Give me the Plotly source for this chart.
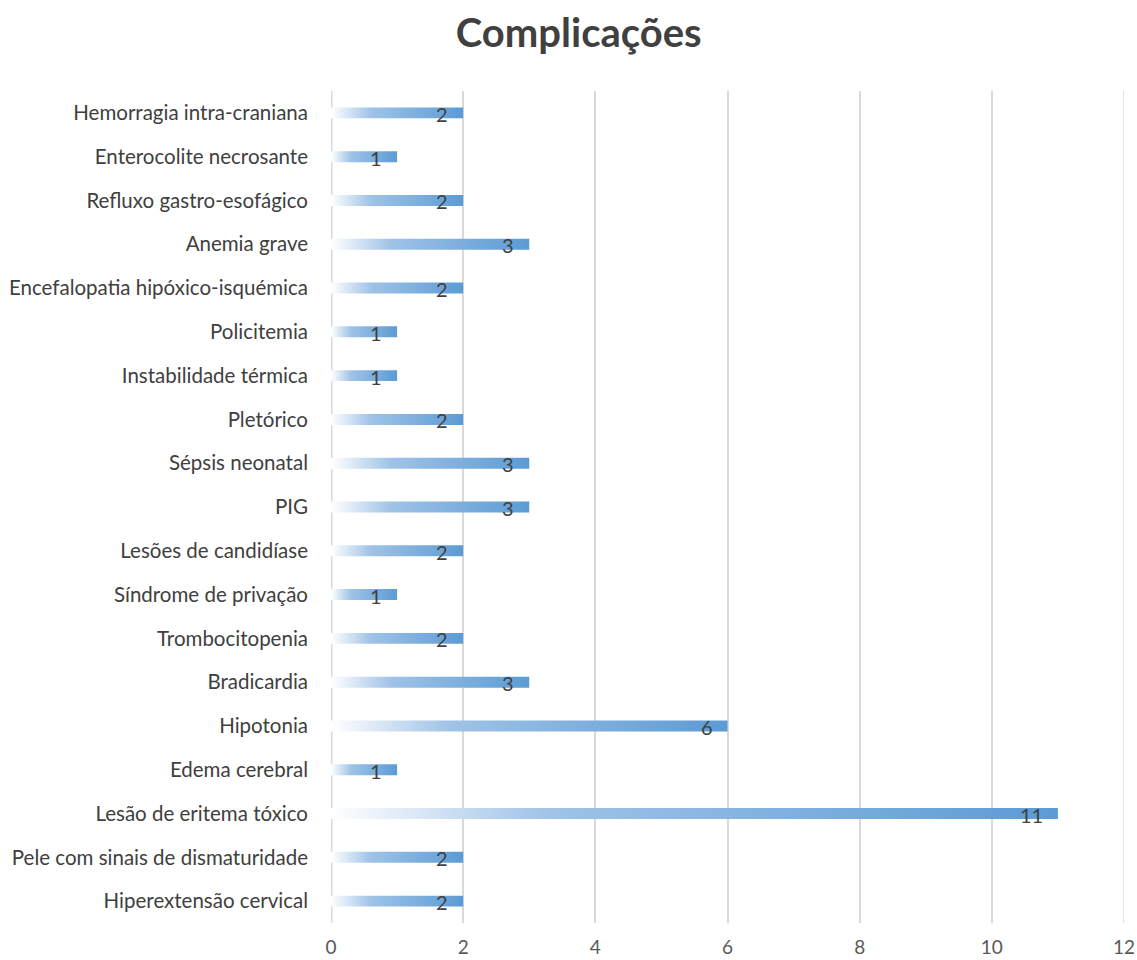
import plotly.graph_objects as go

categories = [
    "Hiperextensão cervical",
    "Pele com sinais de dismaturidade",
    "Lesão de eritema tóxico",
    "Edema cerebral",
    "Hipotonia",
    "Bradicardia",
    "Trombocitopenia",
    "Síndrome de privação",
    "Lesões de candidíase",
    "PIG",
    "Sépsis neonatal",
    "Pletórico",
    "Instabilidade térmica",
    "Policitemia",
    "Encefalopatia hipóxico-isquémica",
    "Anemia grave",
    "Refluxo gastro-esofágico",
    "Enterocolite necrosante",
    "Hemorragia intra-craniana",
]
values = [2, 2, 11, 1, 6, 3, 2, 1, 2, 3, 3, 2, 1, 1, 2, 3, 2, 1, 2]
x_ticks = [0, 2, 4, 6, 8, 10, 12]

FONT = "Lato"
half = 0.125
grad = [[0.0, "rgba(255,255,255,1)"], [0.3, "#a0c3e7"], [1.0, "#5b9bd5"]]

fig = go.Figure()
for i, (c, v) in enumerate(zip(categories, values)):
    fig.add_trace(go.Scatter(
        x=[0, v, v, 0, 0],
        y=[i - half, i - half, i + half, i + half, i - half],
        mode="lines",
        line=dict(width=0),
        fill="toself",
        fillgradient=dict(type="horizontal", colorscale=grad),
        hoverinfo="skip",
        showlegend=False,
    ))
    fig.add_annotation(
        x=v, y=i, text=str(v), showarrow=False,
        xanchor="right", yanchor="middle", xshift=-13, yshift=-1,
        font=dict(family=FONT, size=20, color="#404040"),
    )

fig.update_layout(
    width=1137, height=960,
    margin=dict(l=331, r=13, t=91, b=37),
    paper_bgcolor="white", plot_bgcolor="white",
    title=dict(text="<b>Complicações</b>", x=0.509, xanchor="center", y=0.966, yanchor="middle",
               font=dict(family=FONT, size=40, color="#404040")),
    font=dict(family=FONT, size=18, color="#404040"),
    showlegend=False,
)
fig.update_xaxes(
    range=[0, 12], tickvals=x_ticks, showgrid=True, gridcolor="#d9d9d9", gridwidth=1.5,
    zeroline=False, showline=False, ticks="", tickfont=dict(size=19, color="#595959"),
    ticklabelstandoff=11, automargin=False, fixedrange=True,
)
fig.update_yaxes(
    range=[-0.5, len(categories) - 0.5], tickvals=list(range(len(categories))), ticktext=categories,
    showgrid=False, zeroline=False, showline=False, ticks="", ticklabelstandoff=22,
    tickfont=dict(size=20.5, color="#404040"), automargin=False, fixedrange=True,
)
fig.add_shape(type="line", xref="x", yref="paper", x0=0, x1=0, y0=0, y1=1,
              line=dict(color="#d9d9d9", width=3), layer="below")
fig.add_shape(type="line", xref="x", yref="paper", x0=x_ticks[-1], x1=x_ticks[-1], y0=0, y1=1,
              line=dict(color="#d9d9d9", width=1.5), layer="below")

fig.write_html("out.html")
